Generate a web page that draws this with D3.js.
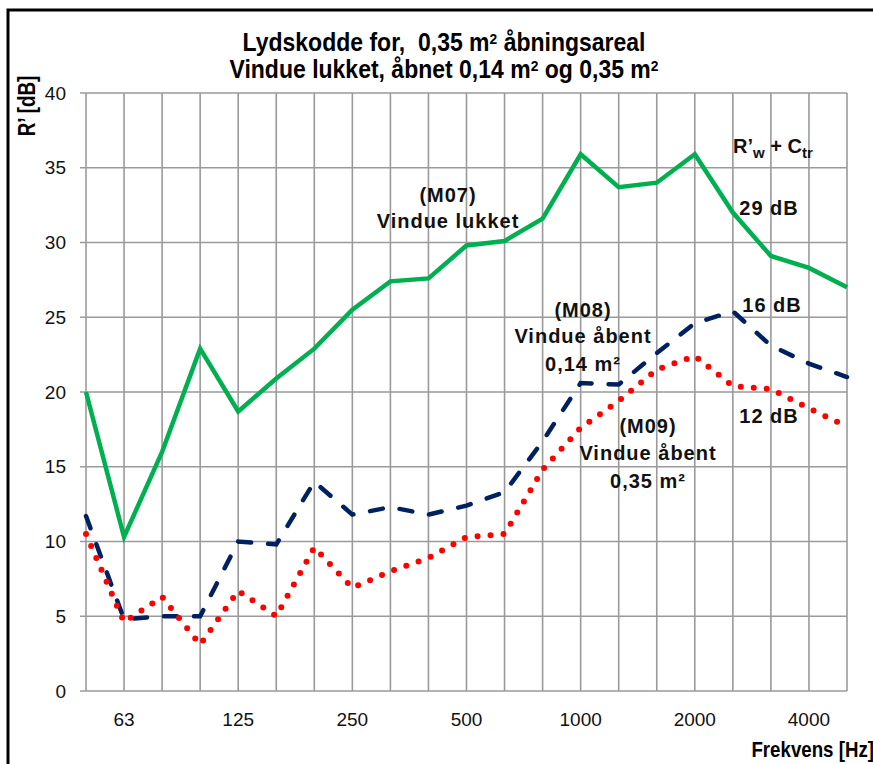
<!DOCTYPE html>
<html>
<head>
<meta charset="utf-8">
<script src="https://cdn.jsdelivr.net/npm/d3@7"></script>
<style>
  body { margin: 0; background: #fff; }
  svg { display: block; font-family: "Liberation Sans", Arial, sans-serif; }
</style>
</head>
<body>
<svg id="chart" width="873" height="764"></svg>
<script>
// 1/3 octave bands, 50 Hz - 5000 Hz
const freqs = ["50", "63", "80", "100", "125", "160", "200", "250", "315", "400", "500",
  "630", "800", "1000", "1250", "1600", "2000", "2500", "3150", "4000", "5000"];
const xTickLabels = ["63", "125", "250", "500", "1000", "2000", "4000"];

// R' [dB] per band
const m07 = [20.0, 10.3, 16.0, 22.9, 18.7, 20.9, 22.9, 25.5, 27.4, 27.6, 29.8,
  30.1, 31.6, 35.9, 33.7, 34.0, 35.9, 32.0, 29.1, 28.3, 27.0];   // vindue lukket
const m08 = [11.7, 4.8, 5.0, 5.0, 10.0, 9.8, 14.0, 11.8, 12.3, 11.8, 12.4,
  13.3, 16.7, 20.6, 20.5, 22.6, 24.6, 25.4, 23.1, 21.9, 21.0];   // åbent 0,14 m2
const m09 = [10.5, 4.6, 6.3, 3.1, 6.7, 5.0, 9.6, 6.9, 8.0, 8.9, 10.3,
  10.5, 14.8, 17.6, 19.4, 21.5, 22.4, 20.4, 20.2, 18.9, 17.7];   // åbent 0,35 m2

const yMax = 40;

const svg = d3.select('#chart');

// outer chart border (left + top visible)
svg.append('path')
  .attr('d', 'M8,764 V10 H873')
  .attr('fill', 'none')
  .attr('stroke', '#000')
  .attr('stroke-width', 3);

const x = d3.scalePoint().domain(freqs).range([86, 847]);
const y = d3.scaleLinear().domain([0, yMax]).range([691, 93]);

// grid
const grid = svg.append('g')
  .attr('stroke', '#9a9a9a')
  .attr('stroke-width', 1.6);

grid.selectAll('.vline')
  .data(freqs)
  .enter()
  .append('line')
  .attr('x1', d => x(d))
  .attr('x2', d => x(d))
  .attr('y1', y(yMax))
  .attr('y2', y(0));

grid.selectAll('.hline')
  .data(y.ticks(8))
  .enter()
  .append('line')
  .attr('x1', x(freqs[0]) - 6)
  .attr('x2', x(freqs[freqs.length - 1]))
  .attr('y1', d => y(d))
  .attr('y2', d => y(d));

// y tick labels
svg.append('g')
  .selectAll('text')
  .data(y.ticks(8))
  .enter()
  .append('text')
  .attr('x', 66)
  .attr('y', d => y(d))
  .attr('dy', '0.35em')
  .attr('text-anchor', 'end')
  .style('font-size', '19px')
  .style('fill', '#111')
  .text(d => d);

// x tick labels
svg.append('g')
  .selectAll('text')
  .data(xTickLabels)
  .enter()
  .append('text')
  .attr('x', d => x(d))
  .attr('y', 726)
  .attr('text-anchor', 'middle')
  .style('font-size', '19px')
  .style('fill', '#111')
  .text(d => d);

// condensed bold label helper
function narrowText(px, py, sx, rot, size, anchor, str) {
  const g = svg.append('g')
    .attr('transform', `translate(${px},${py}) rotate(${rot}) scale(${sx},1)`);
  return g.append('text')
    .attr('text-anchor', anchor)
    .style('font-size', size + 'px')
    .style('font-weight', 'bold')
    .text(str);
}

narrowText(35, 106, 0.82, -90, 23, 'middle', 'R\u2019 [dB]');
narrowText(874, 757, 0.85, 0, 22, 'end', 'Frekvens [Hz]');

// title
const t1 = narrowText(444, 51, 0.92, 0, 25, 'middle', '');
t1.append('tspan').text('Lydskodde for,\u00a0 0,35 m');
t1.append('tspan').attr('dy', -7).style('font-size', '15px').text('2');
t1.append('tspan').attr('dy', 7).text(' åbningsareal');

const t2 = narrowText(444, 78, 0.92, 0, 25, 'middle', '');
t2.append('tspan').text('Vindue lukket, åbnet 0,14 m');
t2.append('tspan').attr('dy', -7).style('font-size', '15px').text('2');
t2.append('tspan').attr('dy', 7).text(' og 0,35 m');
t2.append('tspan').attr('dy', -7).style('font-size', '15px').text('2');

// series
const line = d3.line()
  .x((d, i) => x(freqs[i]))
  .y(d => y(d));

svg.append('path')
  .datum(m08)
  .attr('d', line)
  .attr('fill', 'none')
  .attr('stroke', '#002060')
  .attr('stroke-width', 4.5)
  .attr('stroke-linecap', 'round')
  .attr('stroke-dasharray', '13 17');

svg.append('path')
  .datum(m09)
  .attr('d', line)
  .attr('fill', 'none')
  .attr('stroke', '#ff0000')
  .attr('stroke-width', 6)
  .attr('stroke-linecap', 'round')
  .attr('stroke-dasharray', '0 13');

svg.append('path')
  .datum(m07)
  .attr('d', line)
  .attr('fill', 'none')
  .attr('stroke', '#00b050')
  .attr('stroke-width', 4.5)
  .attr('stroke-linejoin', 'miter');

// annotations
const notes = [
  { x: 448, y: 202, t: '(M07)' },
  { x: 448, y: 228, t: 'Vindue lukket' },
  { x: 583, y: 317, t: '(M08)' },
  { x: 583, y: 343, t: 'Vindue åbent' },
  { x: 583, y: 371, t: '0,14 m²' },
  { x: 648, y: 433, t: '(M09)' },
  { x: 648, y: 460, t: 'Vindue åbent' },
  { x: 648, y: 488, t: '0,35 m²' },
  { x: 769, y: 215, t: '29 dB' },
  { x: 772, y: 312, t: '16 dB' },
  { x: 769, y: 423, t: '12 dB' }
];

svg.append('g')
  .selectAll('text')
  .data(notes)
  .enter()
  .append('text')
  .attr('x', d => d.x)
  .attr('y', d => d.y)
  .attr('text-anchor', 'middle')
  .style('font-size', '20px')
  .style('font-weight', 'bold')
  .style('letter-spacing', '1px')
  .style('fill', '#111')
  .text(d => d.t);

const rw = svg.append('text')
  .attr('x', 733)
  .attr('y', 153)
  .style('font-size', '20px')
  .style('font-weight', 'bold')
  .style('fill', '#111');
rw.append('tspan').text('R\u2019');
rw.append('tspan').attr('dy', 5).style('font-size', '15px').text('w');
rw.append('tspan').attr('dy', -5).text(' + C');
rw.append('tspan').attr('dy', 5).style('font-size', '15px').text('tr');
</script>
</body>
</html>
